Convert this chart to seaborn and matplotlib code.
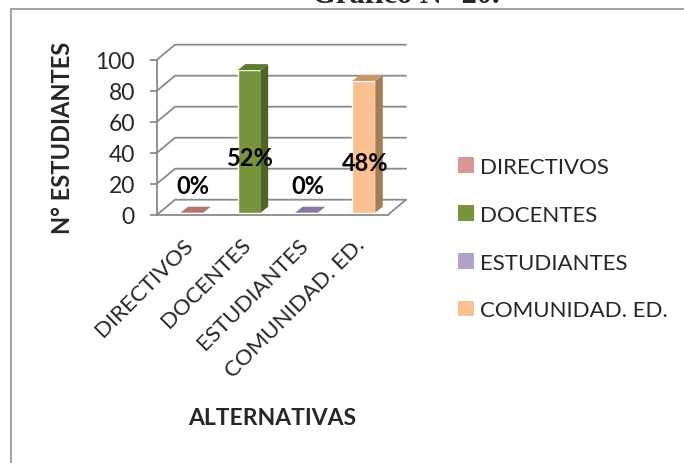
import numpy as np
import pandas as pd
import seaborn as sns
import matplotlib.pyplot as plt
from matplotlib.patches import Polygon, Patch
from matplotlib.lines import Line2D
from matplotlib.transforms import IdentityTransform, offset_copy, ScaledTranslation

# Data
categories = ["DIRECTIVOS", "DOCENTES", "ESTUDIANTES", "COMUNIDAD. ED."]
counts = [0, 92, 0, 85]
y_ticks = [0, 20, 40, 60, 80, 100]

# Face colours of the pseudo-3D columns
front_colors = ["#d99694", "#77933c", "#b3a2c7", "#fac090"]
side_colors = ["#a86e6c", "#4f6228", "#7f6f95", "#a67c52"]
top_colors = ["#b47573", "#5f7a2e", "#8a7aa3", "#c9976a"]

GRAY = "#8a8a8a"
W, H = 684, 464

sns.set_theme(style="white")
plt.rcParams["font.family"] = ["Lato", "DejaVu Sans"]

fig = plt.figure(figsize=(W / 100, H / 100), dpi=100)
ax = fig.add_axes([157 / W, (H - 215.7) / H, 231 / W, 155 / H])
ax.patch.set_alpha(0)

df = pd.DataFrame({"alternativa": categories, "n": counts})
sns.barplot(data=df, x="alternativa", y="n", hue="alternativa",
            palette=front_colors, saturation=1, width=0.4,
            legend=False, ax=ax)

ax.set_xlim(-0.574, 3.457)
ax.set_ylim(0, 100)
xl, xr = ax.get_xlim()

# depth of back wall and of the columns, in pixels
WX, WY = 18, 15
BX, BY = 7.5, 6
SX, SY = 2, 2

ident = IdentityTransform()
to_px = ax.transData.transform

# back wall gridlines, floor and left-hand slants
for t in y_ticks:
    fx, fy = to_px((xl, t))
    rx, ry = to_px((xr, t))
    ax.add_line(Line2D([fx, fx + WX, rx + WX], [fy, fy + WY, ry + WY],
                       transform=ident, color=GRAY, lw=1.3,
                       clip_on=False, zorder=0.5))
fx, fy = to_px((xr, 0))
ax.add_line(Line2D([fx, fx + WX], [fy, fy + WY], transform=ident,
                   color=GRAY, lw=1.3, clip_on=False, zorder=0.5))

# columns: shift front faces slightly into the floor, then add side/top faces
total = sum(counts)
bars = sorted(ax.patches, key=lambda p: p.get_x())
shift = offset_copy(ax.transData, fig=fig, x=SX, y=SY, units="dots")
for i, p in enumerate(bars):
    p.set_transform(shift)
    p.set_zorder(1)
    x0, w, h = p.get_x(), p.get_width(), p.get_height()
    (ax0, ay0) = to_px((x0, 0))
    (ax1, ay1) = to_px((x0 + w, h))
    ax0 += SX; ax1 += SX; ay0 += SY; ay1 += SY
    side = Polygon([(ax1, ay0), (ax1 + BX, ay0 + BY),
                    (ax1 + BX, ay1 + BY), (ax1, ay1)],
                   closed=True, transform=ident, facecolor=side_colors[i],
                   edgecolor="none", clip_on=False, zorder=1.1)
    top = Polygon([(ax0, ay1), (ax1, ay1), (ax1 + BX, ay1 + BY),
                   (ax0 + BX, ay1 + BY)],
                  closed=True, transform=ident, facecolor=top_colors[i],
                  edgecolor="none", clip_on=False, zorder=1.1)
    ax.add_patch(side)
    ax.add_patch(top)

    pct = round(counts[i] / total * 100)
    ly = max(counts[i] / 2 - 9, 19)
    ax.text(x0 + w / 2, ly, f"{pct}%", ha="center", va="center",
            fontsize=17, fontweight="bold", color="black", zorder=3,
            transform=offset_copy(ax.transData, fig=fig, x=3, y=0,
                                  units="dots"))

# axes styling
for s in ["top", "right"]:
    ax.spines[s].set_visible(False)
for s in ["left", "bottom"]:
    ax.spines[s].set_color(GRAY)
    ax.spines[s].set_linewidth(1.3)
ax.set_yticks(y_ticks)
ax.tick_params(axis="y", length=5, width=1.3, color=GRAY, pad=11,
               labelsize=16.5, left=True)
ax.set_xticks(range(len(categories)))
ax.set_xticklabels(categories, rotation=45, ha="right",
                   rotation_mode="anchor", fontsize=16)
ax.tick_params(axis="x", length=0, pad=14)
for lab in ax.get_xticklabels():
    lab.set_transform(lab.get_transform()
                      + ScaledTranslation(-5 / 72, 0, fig.dpi_scale_trans))

ax.set_ylabel("N° ESTUDIANTES", fontsize=17, fontweight="bold")
ax.yaxis.set_label_coords(-0.36, 0.5)
ax.set_xlabel("ALTERNATIVAS", fontsize=16.5, fontweight="bold")
ax.xaxis.set_label_coords(0.5, -1.24)

# legend
handles = [Patch(facecolor=c, edgecolor="none") for c in front_colors]
fig.legend(handles, categories, loc="upper left",
           bbox_to_anchor=(458 / W, 1 - 158 / H), frameon=False,
           fontsize=16, handlelength=0.7, handleheight=0.7,
           handletextpad=0.3, labelspacing=1.25, borderpad=0,
           borderaxespad=0)

# title sitting at the top edge, and the frame
fig.text(406 / W, 1 - 3 / H, "Gráfico N° 20.", ha="center", va="baseline",
         fontsize=22, fontweight="bold", family="Liberation Serif")
fig.add_artist(Line2D([10.5 / W, 10.5 / W, 1], [0, 1 - 9.5 / H, 1 - 9.5 / H],
                      transform=fig.transFigure, color=GRAY, lw=1.1))

fig.savefig("out.png", dpi=100)
